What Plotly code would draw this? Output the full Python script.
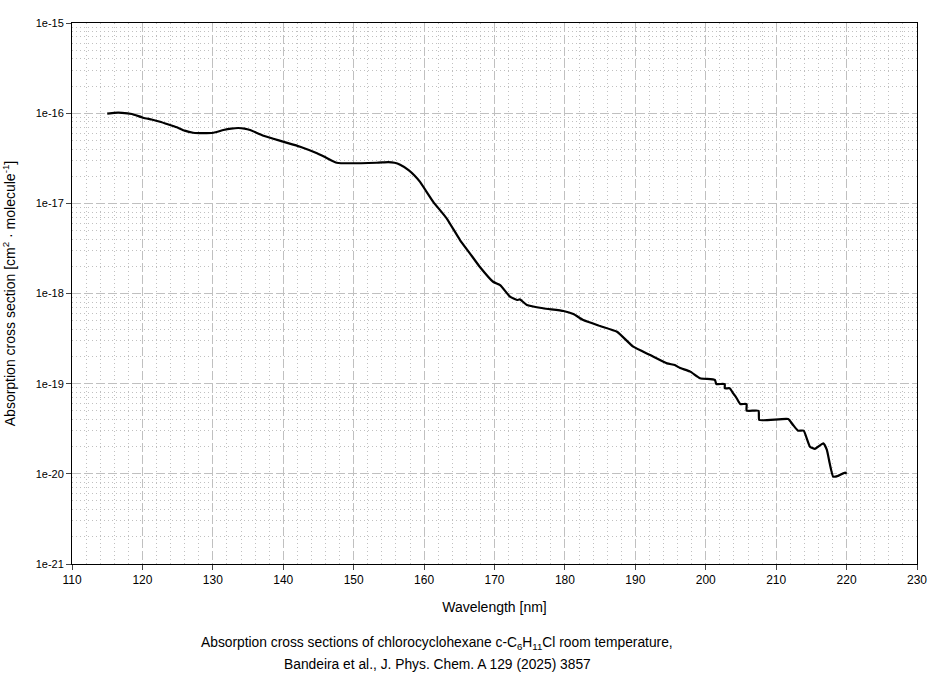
import plotly.graph_objects as go

wavelength_nm = [115.0, 116.0, 117.1, 118.5, 120.1, 121.3, 122.5, 123.7, 124.9, 126.0, 127.2, 128.6, 130.1, 131.5, 132.6, 133.6,
                 134.5, 135.3, 137.2, 140.0, 142.4, 144.8, 146.3, 147.6, 153.3, 154.9, 155.8, 156.6, 157.8,
                 158.6, 159.4, 161.3, 163.2, 165.1, 166.5, 167.9, 169.8, 170.8, 172.2, 173.2,
                 173.6, 174.6, 176.9, 179.8, 181.2, 182.6, 185.0, 187.4, 189.7, 192.1,
                 194.5, 195.6, 196.3, 197.8, 199.2, 201.3, 201.5, 202.7, 202.7, 203.4,
                 203.9, 204.4, 204.9, 205.8, 205.8, 207.5, 207.6, 211.7, 212.4, 213.1,
                 213.9, 214.8, 215.5, 216.7, 217.2, 217.6, 218.1, 218.8, 219.8, 220.0]
cross_section = [9.87e-17, 1.01e-16, 1.01e-16, 9.8e-17, 8.9e-17, 8.5e-17, 8.04e-17, 7.5e-17, 6.97e-17, 6.4e-17, 6.07e-17, 6.0e-17, 6.07e-17, 6.5e-17, 6.75e-17, 6.85e-17,
                 6.75e-17, 6.5e-17, 5.62e-17, 4.83e-17, 4.25e-17, 3.59e-17, 3.15e-17, 2.82e-17, 2.82e-17, 2.87e-17, 2.82e-17, 2.68e-17, 2.34e-17,
                 2.05e-17, 1.74e-17, 1.04e-17, 6.82e-18, 3.92e-18, 2.79e-18, 1.98e-18, 1.35e-18, 1.24e-18, 9.22e-19, 8.47e-19,
                 8.6e-19, 7.46e-19, 6.86e-19, 6.4e-19, 5.93e-19, 5.08e-19, 4.36e-19, 3.77e-19, 2.57e-19, 2.08e-19,
                 1.68e-19, 1.61e-19, 1.5e-19, 1.36e-19, 1.15e-19, 1.1e-19, 9.91e-20, 9.91e-20, 8.89e-20, 8.89e-20,
                 7.82e-20, 6.89e-20, 5.95e-20, 5.95e-20, 5.01e-20, 5.01e-20, 3.95e-20, 4.06e-20, 3.48e-20, 3.01e-20,
                 3.01e-20, 2.0e-20, 1.89e-20, 2.18e-20, 1.84e-20, 1.31e-20, 9.3e-21, 9.5e-21, 1.03e-20, 1.0e-20]

x_ticks = [110, 120, 130, 140, 150, 160, 170, 180, 190, 200, 210, 220, 230]
y_tickvals = [1e-21, 1e-20, 1e-19, 1e-18, 1e-17, 1e-16, 1e-15]
y_ticktext = ["1e-21", "1e-20", "1e-19", "1e-18", "1e-17", "1e-16", "1e-15"]

caption_line1 = "Absorption cross sections of chlorocyclohexane c-C<sub>6</sub>H<sub>11</sub>Cl room temperature,"
caption_line2 = "Bandeira et al., J. Phys. Chem. A 129 (2025) 3857"

FONT = "Liberation Sans, Arial, sans-serif"
GRID = "#c0c0c0"
MAJOR_DASH = "9px,3px"
MINOR_DASH = "1px,3px"

fig = go.Figure()
fig.add_trace(go.Scatter(x=wavelength_nm, y=cross_section, mode="lines",
                         line=dict(color="black", width=2.2, shape="spline", smoothing=0.4),
                         showlegend=False))
# invisible trace to activate the minor-grid overlay axis
fig.add_trace(go.Scatter(x=[wavelength_nm[0]], y=[cross_section[0]], yaxis="y2", mode="markers",
                         marker=dict(opacity=0), showlegend=False, hoverinfo="skip"))

fig.update_layout(
    width=940, height=678,
    margin=dict(l=72, r=23, t=23, b=114),
    paper_bgcolor="white", plot_bgcolor="white",
    font=dict(family=FONT, size=11, color="black"),
    xaxis=dict(range=[110, 230], tickvals=x_ticks, ticks="outside", ticklen=5,
               tickfont=dict(size=12), automargin=False,
               showline=True, linecolor="black", linewidth=1, mirror=True,
               showgrid=True, gridcolor=GRID, griddash=MAJOR_DASH, gridwidth=1,
               minor=dict(dtick=2, showgrid=True, gridcolor=GRID, griddash=MINOR_DASH, gridwidth=1, ticks=""),
               zeroline=False,
               title=dict(text="Wavelength [nm]", font=dict(size=14), standoff=15)),
    yaxis=dict(type="log", range=[-21, -15], tickvals=y_tickvals, ticktext=y_ticktext,
               ticks="outside", ticklen=5, tickfont=dict(size=11), automargin=False,
               showline=True, linecolor="black", linewidth=1, mirror=True,
               showgrid=True, gridcolor=GRID, griddash=MAJOR_DASH, gridwidth=1,
               zeroline=False,
               title=dict(text="Absorption cross section [cm<sup>2</sup> · molecule<sup>-1</sup>]",
                          font=dict(size=14), standoff=19)),
    yaxis2=dict(type="log", range=[-21, -15], overlaying="y", dtick="D1", automargin=False,
                showticklabels=False, ticks="", showline=False, zeroline=False,
                showgrid=True, gridcolor=GRID, griddash=MINOR_DASH, gridwidth=1),
    annotations=[
        dict(text=caption_line1, xref="paper", yref="paper", x=0.432, y=-0.147,
             xanchor="center", yanchor="middle", showarrow=False, font=dict(size=13.8)),
        dict(text=caption_line2, xref="paper", yref="paper", x=0.432, y=-0.186,
             xanchor="center", yanchor="middle", showarrow=False, font=dict(size=13.8)),
    ],
)

fig.write_html("out.html", config={"displayModeBar": False},
               post_script="document.body.style.margin='0';")
